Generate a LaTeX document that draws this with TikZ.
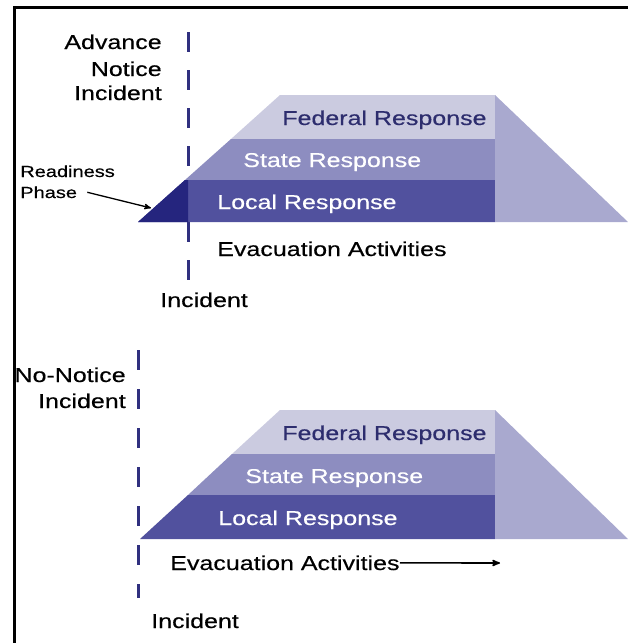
\documentclass[tikz,border=0pt]{standalone}
\usepackage{fontspec}
\setmainfont{Liberation Sans}[FakeStretch=1.25, FakeBold=0.4]
\usepackage{tikz}
\usetikzlibrary{arrows}

\definecolor{fedband}{HTML}{CBCBE0}
\definecolor{stateband}{HTML}{8D8DC0}
\definecolor{localband}{HTML}{51519E}
\definecolor{sideface}{HTML}{A9A9CF}
\definecolor{readyband}{HTML}{25257E}
\definecolor{navytext}{HTML}{2D2D6E}
\definecolor{navyline}{HTML}{30307F}

\begin{document}
\begin{tikzpicture}[
  x=1pt, y=-1pt,
  >=stealth',
  semithick,
  lbl/.style={inner sep=0pt, font=\fontsize{20}{24}\selectfont},
  small/.style={inner sep=0pt, font=\fontsize{16}{20}\selectfont},
  incline/.style={navyline, line width=3pt, dash pattern=on 20pt off 18pt}
]
  \useasboundingbox (0,0) rectangle (628,643);

  % Frame
  \draw[line width=3.5pt] (14.5,643) |- (628,7.5);

  % --- Advance notice ---
  \coordinate (inctop1) at (188,32);
  \coordinate (incbot1) at (188,283);
  \draw[incline] (inctop1) -- (incbot1);

  % bands
  \fill[fedband]   (280,95) -- (495,95) -- (495,139) -- (231,139) -- cycle;
  \fill[stateband] (231,139) -- (495,139) -- (495,180) -- (185,180) -- cycle;
  \fill[localband] (185,180) -- (495,180) -- (495,222) -- (138,222) -- cycle;
  \fill[sideface]  (495,95) -- (628,222) -- (495,222) -- cycle;
  \fill[readyband] (138,222) -- (188,222) -- (188,180) -- (185,180) -- cycle;

  \node[lbl, anchor=base east] (adv) at (162,49) {Advance};
  \node[lbl, anchor=base east] (notice) at (162,76) {Notice};
  \node[lbl, anchor=base east] (advinc) at (162,100) {Incident};

  \node[lbl, anchor=base west, text=navytext] (fed1) at (282,125) {Federal Response};
  \node[lbl, anchor=base west, text=white] (state1) at (243,167) {State Response};
  \node[lbl, anchor=base west, text=white] (local1) at (217,209) {Local Response};
  \node[lbl, anchor=base west] (evac1) at (217,256) {Evacuation Activities};
  \node[lbl, anchor=base west] (inc1) at (160,307) {Incident};

  \node[small, anchor=base west] (ready) at (20,177) {Readiness};
  \node[small, anchor=base west] (phase) at (20,198) {Phase};
  \coordinate (readytip) at (151,208);
  \draw[->, line width=1.3pt] ([xshift=10pt]phase.east) -- (readytip);

  % --- No notice ---
  \coordinate (inctop2) at (138,350);
  \coordinate (incbot2) at (138,598);
  \draw[incline, dash pattern=on 20pt off 19pt] (inctop2) -- (incbot2);

  % bands
  \fill[fedband]   (280,410) -- (495,410) -- (495,454) -- (232,454) -- cycle;
  \fill[stateband] (232,454) -- (495,454) -- (495,495) -- (188,495) -- cycle;
  \fill[localband] (188,495) -- (495,495) -- (495,539) -- (140,539) -- cycle;
  \fill[sideface]  (495,410) -- (628,539) -- (495,539) -- cycle;

  \node[lbl, anchor=base east] (nonotice) at (126,382) {No-Notice};
  \node[lbl, anchor=base east] (noinc) at (126,408) {Incident};

  \node[lbl, anchor=base west, text=navytext] (fed2) at (282,440) {Federal Response};
  \node[lbl, anchor=base west, text=white] (state2) at (245,483) {State Response};
  \node[lbl, anchor=base west, text=white] (local2) at (218,525) {Local Response};
  \node[lbl, anchor=base west] (evac2) at (170,570) {Evacuation Activities};
  \node[lbl, anchor=base west] (inc2) at (151,628) {Incident};

  \coordinate (evacend) at (500,563);
  \draw[->, line width=1.6pt] (evac2.east) -- (evacend);
\end{tikzpicture}
\end{document}
